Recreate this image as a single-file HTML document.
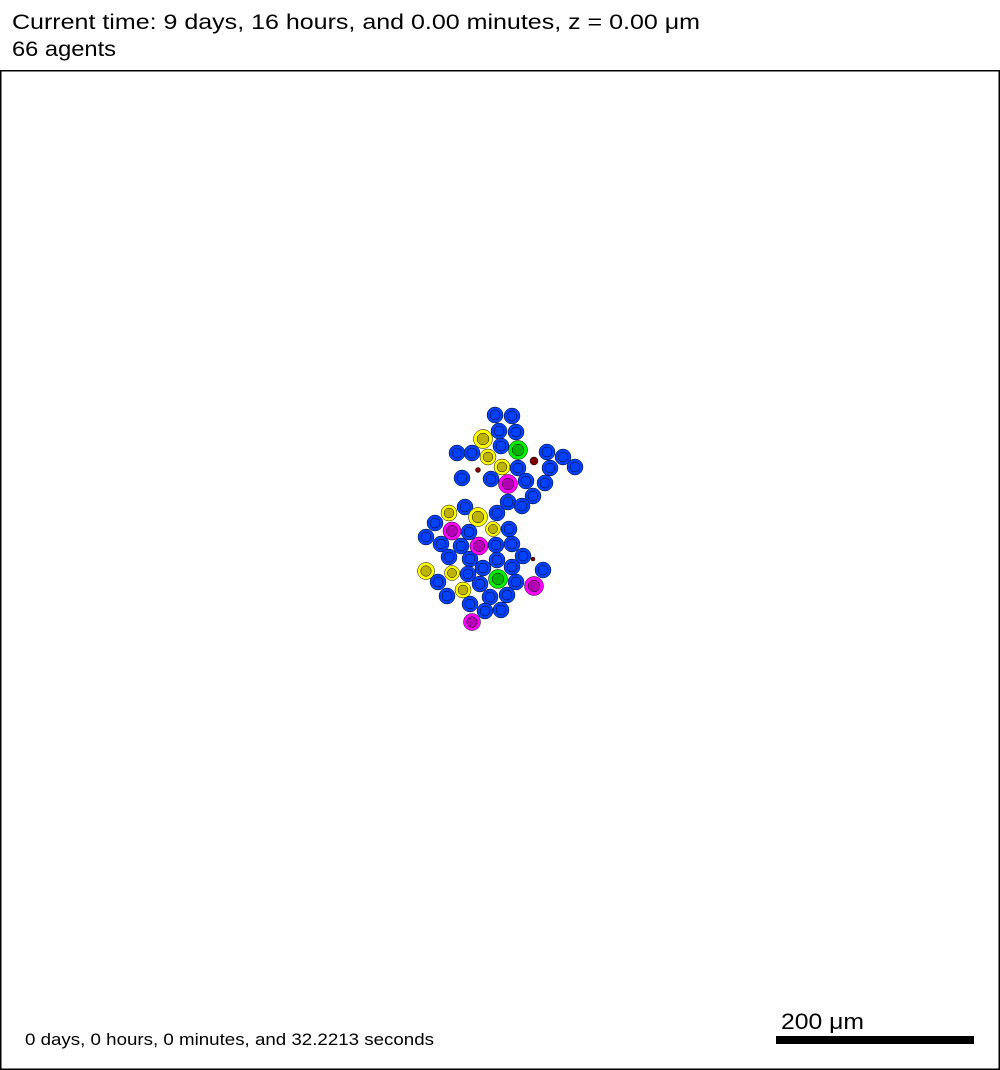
<!DOCTYPE html>
<html><head><meta charset="utf-8"><style>
html,body{margin:0;padding:0;background:#fff;}
svg{display:block;font-family:"Liberation Sans",sans-serif;}
</style></head><body>
<svg id="plot" width="1000" height="1070" viewBox="0 0 1000 1070">
<text x="12" y="29" font-size="21" textLength="688" lengthAdjust="spacingAndGlyphs">Current time: 9 days, 16 hours, and 0.00 minutes, z = 0.00 μm</text>
<text x="12" y="56" font-size="21" textLength="104" lengthAdjust="spacingAndGlyphs">66 agents</text>
<rect x="0.75" y="70.75" width="998.5" height="998.5" fill="#fff" stroke="#000" stroke-width="1.5"/>
<g id="cells"></g>
<text x="25" y="1045" font-size="17" textLength="409" lengthAdjust="spacingAndGlyphs">0 days, 0 hours, 0 minutes, and 32.2213 seconds</text>
<text x="781" y="1029" font-size="22" textLength="83" lengthAdjust="spacingAndGlyphs">200 μm</text>
<rect x="776" y="1036" width="198" height="8" fill="#000"/>
</svg>
<script>
const xs = [495,512,499,516,457,472,501,547,563,575,518,550,462,491,526,545,533,508,522,
465,497,435,469,509,426,441,461,496,512,449,470,497,523,483,512,543,468,438,480,516,447,490,507,470,485,501,
483,488,502,449,478,493,426,452,463,
518,498,
508,452,479,534,472,
534,478,533];
const ys = [415,416,431,432,453,453,446,452,457,467,468,468,478,479,481,483,496,502,506,
507,513,523,532,529,537,544,546,545,544,557,559,560,556,568,567,570,574,582,584,582,596,597,595,604,611,610,
439,457,467,513,517,529,571,573,590,
450,579,
484,531,546,586,622,
461,470,559];
const kinds = ["b","b","b","b","b","b","b","b","b","b","b","b","b","b","b","b","b","b","b",
"b","b","b","b","b","b","b","b","b","b","b","b","b","b","b","b","b","b","b","b","b","b","b","b","b","b","b",
"y","y","y","y","y","y","y","y","y",
"g","g",
"m","m","m","m","m",
"d","d","d"];
const radii = [8,8,8,8,8,8,8,8,8,8,8,8,8,8,8,8,8,8,8,
8,8,8,8,8,8,8,8,8,8,8,8,8,8,8,8,8,8,8,8,8,8,8,8,8,8,8,
9.5,8,8,8,9.5,7.5,8.5,7.5,8,
9.5,9.5,
9.5,9,9,9.5,8.5,
4,2.5,2];
const fills = {b:["#0040ff","#0040ff"],y:["#ffff00","#bdb200"],g:["#00ee00","#00b400"],m:["#ff00ff","#b400b4"],d:["#800000","#800000"]};
const NS="http://www.w3.org/2000/svg";
const layer=document.getElementById("cells");
for(let i=0;i<xs.length;i++){
  const k=kinds[i], r=radii[i];
  const c=document.createElementNS(NS,"circle");
  c.setAttribute("cx",xs[i]);c.setAttribute("cy",ys[i]);c.setAttribute("r",r);
  c.setAttribute("fill",fills[k][0]);c.setAttribute("stroke","#000");c.setAttribute("stroke-width","0.5");
  
  
  layer.appendChild(c);
  if(k!=="d"){
    const n=document.createElementNS(NS,"circle");
    n.setAttribute("cx",xs[i]);n.setAttribute("cy",ys[i]);n.setAttribute("r",r*0.62);
    n.setAttribute("fill",fills[k][1]);n.setAttribute("stroke","#000");n.setAttribute("stroke-width","0.5");
    
    
    layer.appendChild(n);
  }
}
</script>
</body></html>
